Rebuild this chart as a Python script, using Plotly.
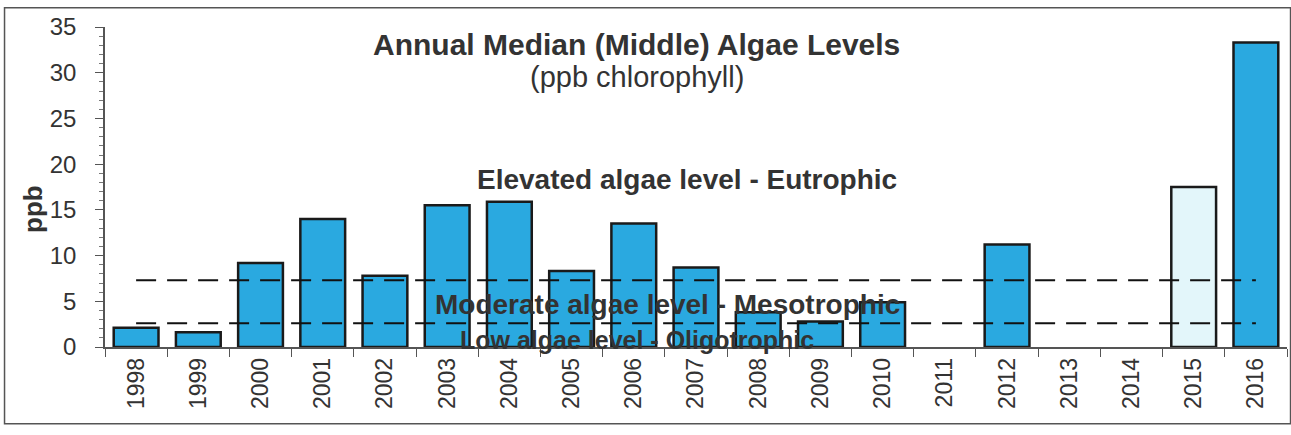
import plotly.graph_objects as go

years = ["1998", "1999", "2000", "2001", "2002", "2003", "2004", "2005", "2006", "2007",
         "2008", "2009", "2010", "2011", "2012", "2013", "2014", "2015", "2016"]
median_ppb = [2.1, 1.6, 9.2, 14.0, 7.8, 15.5, 15.9, 8.3, 13.5, 8.7,
              3.8, 2.8, 4.9, None, 11.2, None, None, 17.5, 33.3]
bar_colors = ["#2AA9E0"] * 17 + ["#E3F6FA", "#2AA9E0"]

meso_upper = 7.3   # eutrophic / mesotrophic threshold
oligo_upper = 2.6  # mesotrophic / oligotrophic threshold
line_span = ["1998", "2016"]

font_family = "Arial, Liberation Sans, sans-serif"
text_color = "#333333"

fig = go.Figure()
fig.add_trace(go.Bar(
    x=years, y=median_ppb,
    marker=dict(color=bar_colors, line=dict(color="#1a1a1a", width=2.5)),
    width=0.72, showlegend=False, hoverinfo="x+y",
))
for level in (meso_upper, oligo_upper):
    fig.add_trace(go.Scatter(
        x=line_span, y=[level, level], mode="lines",
        line=dict(color="#111111", width=2, dash="20px,11px"),
        showlegend=False, hoverinfo="skip",
    ))

fig.update_layout(
    width=1291, height=435,
    margin=dict(l=105, r=4, t=27, b=88),
    paper_bgcolor="white", plot_bgcolor="white",
    font=dict(family=font_family, color=text_color),
    xaxis=dict(
        type="category", categoryorder="array", categoryarray=years,
        tickangle=-90, tickfont=dict(size=23, color=text_color),
        showline=True, linecolor="#555555", linewidth=1.5,
        ticks="outside", tickson="boundaries", ticklen=8, tickcolor="#555555",
        showgrid=False, zeroline=False, automargin=False,
    ),
    yaxis=dict(
        range=[0, 35], dtick=5, tickfont=dict(size=24, color=text_color),
        showline=True, linecolor="#555555", linewidth=1.5,
        ticks="outside", ticklen=8, tickcolor="#555555", ticklabelstandoff=14,
        minor=dict(dtick=1, ticks="outside", ticklen=4, tickcolor="#777777", showgrid=False),
        showgrid=False, zeroline=False, automargin=False,
    ),
    annotations=[
        dict(text="<b>ppb</b>", xref="paper", yref="paper", x=-0.061, y=0.431,
             xanchor="center", yanchor="middle", textangle=-90, showarrow=False,
             font=dict(size=26, color=text_color)),
        dict(text="<b>Annual Median (Middle) Algae Levels</b>", xref="paper", yref="paper",
             x=0.45, y=0.944, xanchor="center", yanchor="middle", showarrow=False,
             font=dict(size=30, color=text_color)),
        dict(text="(ppb chlorophyll)", xref="paper", yref="paper",
             x=0.45, y=0.844, xanchor="center", yanchor="middle", showarrow=False,
             font=dict(size=29, color=text_color)),
        dict(text="<b>Elevated algae level - Eutrophic</b>", xref="paper", yref="y",
             x=0.492, y=18.3, xanchor="center", yanchor="middle", showarrow=False,
             font=dict(size=28, color=text_color)),
        dict(text="<b>Moderate algae level - Mesotrophic</b>", xref="paper", yref="y",
             x=0.476, y=4.6, xanchor="center", yanchor="middle", showarrow=False,
             font=dict(size=28, color=text_color)),
        dict(text="<b>Low algae level - Oligotrophic</b>", xref="paper", yref="y",
             x=0.45, y=0.75, xanchor="center", yanchor="middle", showarrow=False,
             font=dict(size=25, color=text_color)),
    ],
    shapes=[
        dict(type="rect", xref="paper", yref="paper", x0=-0.085, x1=1.003, y0=-0.24, y1=1.06,
             line=dict(color="#555555", width=1.5), fillcolor="rgba(0,0,0,0)", layer="below"),
    ],
)

fig.write_html("out.html", config={"displayModeBar": False},
               post_script="document.body.style.margin='0';")
